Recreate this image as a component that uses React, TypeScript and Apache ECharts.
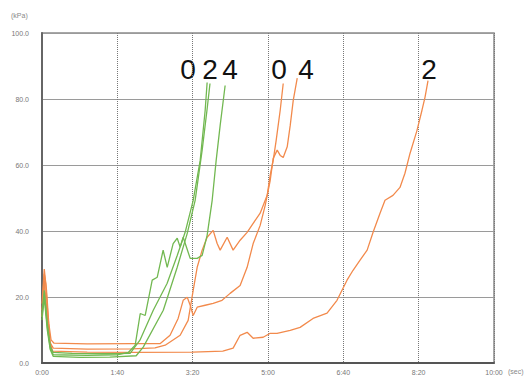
import React, { useEffect, useRef } from "react";
import * as echarts from "echarts";

// time (s), pressure (kPa)
const green0: number[][] = [
  [0, 15], [3, 22], [7, 12], [11, 5], [15, 3.2], [40, 2.9], [80, 2.8], [117, 2.9],
  [130, 6.9], [147.7, 16], [166, 24.1], [179.5, 32.6], [190, 39.6], [200.7, 49.3],
  [210, 61.4], [216.6, 76.6], [219.2, 85],
];
const green2: number[][] = [
  [0, 13], [3, 20], [7, 10], [11, 4], [15, 2], [50, 1.7], [90, 1.8], [125, 2.2],
  [134.4, 4.8], [161, 16], [179.5, 29], [192.8, 39.3], [203.3, 49.3], [212.6, 64.5],
  [219, 76.6], [223, 84.7],
];
const green4: number[][] = [
  [0, 14], [3, 21], [7, 11], [11, 4.5], [15, 2.5], [60, 2.3], [100, 2.5], [114.5, 3.2],
  [123.7, 5.4], [130.4, 15], [137, 14.4], [146.3, 25.1], [153, 26], [160.8, 34.2],
  [166.2, 29], [174.1, 36.2], [179.5, 37.8], [183.4, 35.1], [187.4, 38.1],
  [196.7, 31.7], [206, 31.7], [212.6, 32.6], [219.2, 38.7], [225.9, 49.3],
  [231.2, 61.4], [236.5, 72], [243.1, 84.1],
];
const orange0: number[][] = [
  [0, 16], [3, 27], [5, 24], [8, 14], [11, 6], [15, 4.5], [60, 4.2], [120, 4.3],
  [150, 4.6], [163.5, 5.4], [183.4, 8.4], [194, 12.9], [200.7, 22], [206, 29],
  [212.6, 34.2], [219.2, 38.1], [227.2, 40.2], [232.5, 36.2], [236.5, 34.2],
  [245.8, 38.1], [253.7, 34.2], [263, 37.2], [272.3, 39.6], [280.3, 42.3],
  [289.6, 45.4], [298.9, 50.8], [302.9, 56.9], [306.9, 61.4], [310.8, 67.4],
  [316.2, 76.6], [320.2, 84.7],
];
const orange4: number[][] = [
  [0, 18], [3, 28.5], [6, 22], [9, 12], [12, 7], [16, 6], [60, 5.8], [120, 5.9],
  [157, 5.9], [170, 8.4], [180.7, 13.5], [187.4, 19], [192.8, 19.9], [196.7, 17.5],
  [200.7, 14.4], [206, 16.9], [216.6, 17.5], [227.2, 18.1], [239, 19], [249.7, 21.1],
  [263, 23.5], [272.3, 29], [280.3, 36.2], [289.6, 41.7], [296.2, 47.7],
  [302.9, 55.3], [306.9, 62], [312.2, 64.5], [316.2, 62.9], [320.2, 62.3],
  [325.5, 65.5], [329.5, 72], [333.5, 79.6], [338.8, 86.3],
];
const orange2: number[][] = [
  [0, 14], [3, 25], [6, 17], [10, 7], [14, 3.6], [60, 3.3], [120, 3.2], [200, 3.3],
  [240, 3.6], [253.7, 4.5], [263, 8.4], [272.3, 9.3], [280.3, 7.5], [293.6, 7.8],
  [303, 9], [312, 9], [329.5, 9.9], [342.6, 10.8], [359.8, 13.5], [378.4, 15.1],
  [391.6, 19], [404.9, 25.1], [412.9, 28.1], [422, 31.1], [431.6, 34.2],
  [439.5, 39.6], [448.7, 45.4], [455.3, 49.3], [465.9, 50.8], [475.2, 53.2],
  [481.8, 57.5], [488.5, 63.5], [497.8, 70.5], [504.4, 76.6], [508.4, 80.5],
  [512.4, 85.6],
];

const xTickLabels = ["0:00", "1:40", "3:20", "5:00", "6:40", "8:20", "10:00"];
const yTickLabels = ["0.0", "20.0", "40.0", "60.0", "80.0", "100.0"];
const curveLabels = ["0", "2", "4", "0", "4", "2"];

const GREEN = "#72b851";
const ORANGE = "#f28a4c";

export default function App() {
  const ref = useRef<HTMLDivElement>(null);
  useEffect(() => {
    document.body.style.margin = "0";
    const chart = echarts.init(ref.current!, null, { renderer: "svg" });
    const line = (data: number[][], color: string) => ({
      type: "line",
      data,
      showSymbol: false,
      symbol: "none",
      lineStyle: { color, width: 1.3 },
    });
    const labelX = [188, 210, 230, 279, 306, 429];
    chart.setOption({
      animation: false,
      backgroundColor: "#ffffff",
      grid: {
        left: 42, right: 37, top: 33, bottom: 15,
        show: true, borderColor: "#8a8a8a", borderWidth: 1.5,
      },
      xAxis: {
        type: "value", min: 0, max: 600, interval: 100,
        axisLine: { show: true, lineStyle: { color: "#555", width: 2 } },
        axisTick: { show: false },
        axisLabel: {
          color: "#777", fontSize: 7, margin: 6, fontFamily: "Liberation Sans",
          formatter: (v: number) => xTickLabels[Math.round(v / 100)],
        },
        splitLine: { show: true, lineStyle: { color: "#777", type: "dotted", width: 1 } },
      },
      yAxis: {
        type: "value", min: 0, max: 100, interval: 20,
        axisLine: { show: true, lineStyle: { color: "#666", width: 2 } },
        axisTick: { show: false },
        axisLabel: {
          color: "#777", fontSize: 7, margin: 13, fontFamily: "Liberation Sans",
          formatter: (v: number) => yTickLabels[Math.round(v / 20)],
        },
        splitLine: { show: true, lineStyle: { color: "#9a9a9a", width: 1 } },
      },
      graphic: [
        { type: "text", left: 11, top: 12, style: { text: "(kPa)", fill: "#888", fontSize: 7, fontFamily: "Liberation Sans" } },
        { type: "text", left: 508, top: 368, style: { text: "(sec)", fill: "#888", fontSize: 7, fontFamily: "Liberation Sans" } },
        ...curveLabels.map((t, i) => ({
          type: "text",
          x: labelX[i],
          y: 69,
          style: {
            text: t, fill: "#111", fontSize: 28, fontFamily: "Liberation Sans",
            align: "center", verticalAlign: "middle",
          },
        })),
      ],
      series: [
        line(orange2, ORANGE),
        line(orange0, ORANGE),
        line(orange4, ORANGE),
        line(green0, GREEN),
        line(green2, GREEN),
        line(green4, GREEN),
      ],
    });
    return () => chart.dispose();
  }, []);
  return <div ref={ref} style={{ width: 531, height: 378 }} />;
}
